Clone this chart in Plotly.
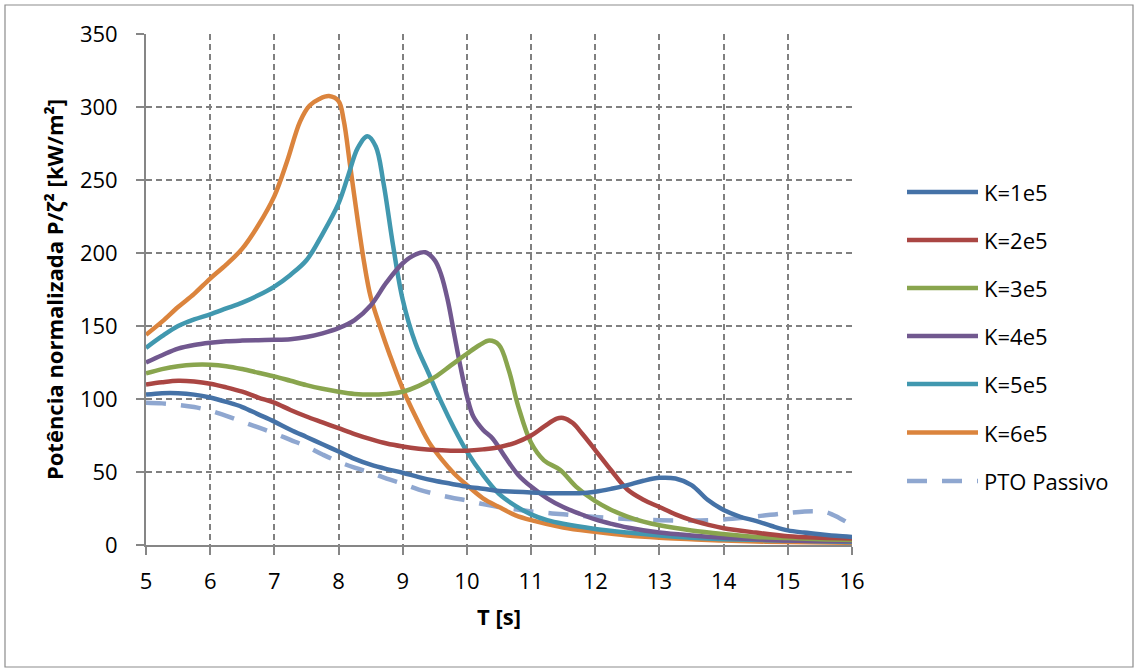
import plotly.graph_objects as go

# ---------------- data ----------------
t_k1 = [5, 5.25, 5.5, 5.75, 6, 6.25, 6.5, 6.75, 7, 7.25, 7.5, 7.75, 8, 8.25, 8.5, 8.75, 9, 9.25, 9.5, 9.75,
        10, 10.25, 10.5, 10.75, 11, 11.25, 11.5, 11.75, 12, 12.25, 12.5, 12.75, 13, 13.25, 13.5, 13.75,
        14, 14.25, 14.5, 14.75, 15, 15.25, 15.5, 15.75, 16]
p_k1 = [103, 104, 104, 103, 101, 98, 94.5, 89.5, 84.5, 79, 74, 69, 64, 59, 55, 52, 49.5, 46.5, 44, 42,
        40, 38.5, 37, 36.5, 36, 35.5, 35.5, 35.5, 36.5, 38.5, 41, 44, 46, 45.5, 41, 31,
        24, 19.5, 16.5, 13, 10, 8.5, 7.3, 6.3, 5.5]

t_k2 = [5, 5.25, 5.5, 5.75, 6, 6.25, 6.5, 6.75, 7, 7.25, 7.5, 7.75, 8, 8.25, 8.5, 8.75, 9, 9.25, 9.5, 9.75,
        10, 10.25, 10.5, 10.75, 11, 11.2, 11.4, 11.5, 11.65, 11.8, 12, 12.25, 12.5, 12.75, 13, 13.25,
        13.5, 13.75, 14, 14.5, 15, 15.5, 16]
p_k2 = [110, 111.5, 112.5, 112, 110.5, 108, 105, 101, 97.5, 92.5, 88, 84, 80, 76, 72.5, 69.5, 67.5, 66, 65, 64.6,
        64.6, 65.5, 67, 70, 75, 81, 86.5, 87, 83.5, 76, 65, 51, 38, 31, 26, 21,
        17, 14, 11.5, 8.5, 6, 5, 4.5]

t_k3 = [5, 5.25, 5.5, 5.75, 6, 6.25, 6.5, 6.75, 7, 7.25, 7.5, 7.75, 8, 8.25, 8.5, 8.75, 9, 9.25, 9.5, 9.75,
        10, 10.2, 10.35, 10.5, 10.65, 10.8, 11, 11.2, 11.45, 11.7, 12, 12.25, 12.5, 12.75, 13, 13.5,
        14, 14.5, 15, 15.5, 16]
p_k3 = [117.5, 120.5, 122.5, 123.5, 123.5, 122.5, 120.5, 118, 115.5, 112.5, 109.5, 107, 105, 103.5, 103, 103.5, 105, 109, 115, 123,
        131, 137, 140, 137, 120, 95, 70, 58, 51.5, 40, 30, 24, 19.5, 16, 13.5, 10,
        7.5, 5.5, 4.8, 4, 3.5]

t_k4 = [5, 5.25, 5.5, 5.75, 6, 6.25, 6.5, 6.75, 7, 7.25, 7.5, 7.75, 8, 8.25, 8.5, 8.75, 9, 9.2, 9.35, 9.5,
        9.6, 9.7, 9.8, 9.9, 10, 10.1, 10.25, 10.4, 10.6, 10.8, 11, 11.25, 11.5, 11.75, 12, 12.25, 12.5,
        13, 13.5, 14, 14.5, 15, 16]
p_k4 = [125, 130, 134.5, 137, 138.5, 139.5, 140, 140.3, 140.5, 141, 142.5, 145, 148.5, 154, 164, 180, 193, 199, 200.5, 195,
        185, 168, 145, 122, 102, 88, 79, 73, 60, 48, 40, 32, 26, 21.5, 17.5, 14.5, 12,
        8.5, 6.5, 5, 4, 3, 2.5]

t_k5 = [5, 5.25, 5.5, 5.75, 6, 6.25, 6.5, 6.75, 7, 7.25, 7.5, 7.75, 8, 8.15, 8.3, 8.45, 8.58, 8.7, 8.85, 9,
        9.2, 9.4, 9.6, 9.8, 10, 10.25, 10.5, 10.75, 11, 11.25, 11.5, 12, 12.5, 13, 13.5, 14, 15, 16]
p_k5 = [135, 143, 150, 154.5, 158, 162, 166, 171, 177, 185, 195, 213, 234, 253, 272, 280, 273, 248, 205, 168,
        138, 118, 98, 80, 64, 48, 35, 27, 21, 17, 14.5, 11, 8.5, 6.5, 5, 4, 3, 2]

t_k6 = [5, 5.25, 5.5, 5.75, 6, 6.25, 6.5, 6.75, 7, 7.2, 7.4, 7.55, 7.7, 7.85, 8, 8.08, 8.18, 8.3, 8.4, 8.5,
        8.65, 8.8, 9, 9.2, 9.4, 9.6, 9.8, 10, 10.25, 10.5, 10.75, 11, 11.5, 12, 12.5, 13, 13.5, 14, 15, 16]
p_k6 = [144, 153, 163, 172, 182.5, 192, 203, 219, 239, 263, 290, 301, 305.5, 307.5, 304, 291, 260, 222, 193, 170,
        149, 130, 107, 88, 71, 59, 49, 41, 32, 26, 20.5, 17, 12, 9, 6.5, 5, 4, 3, 2, 1.5]

t_pas = [5, 5.25, 5.5, 5.75, 6, 6.25, 6.5, 6.75, 7, 7.25, 7.5, 7.75, 8, 8.25, 8.5, 8.75, 9, 9.25, 9.5, 9.75,
         10, 10.25, 10.5, 10.75, 11, 11.5, 12, 12.5, 13, 13.5, 14, 14.5, 15, 15.4, 15.6, 15.8, 16]
p_pas = [97.5, 97, 96, 94.5, 92, 88.5, 84.5, 80.5, 76.5, 72, 67.5, 62, 57, 53, 49.5, 45.5, 42, 38, 35, 32.5,
         30.5, 28, 26, 24.5, 23, 21, 19.2, 17.8, 17, 16.8, 17.5, 19.5, 22, 23.2, 22.5, 18.5, 13.5]

series_names = ["K=1e5", "K=2e5", "K=3e5", "K=4e5", "K=5e5", "K=6e5", "PTO Passivo"]
series_t = [t_k1, t_k2, t_k3, t_k4, t_k5, t_k6, t_pas]
series_p = [p_k1, p_k2, p_k3, p_k4, p_k5, p_k6, p_pas]
series_colors = ["#4572A7", "#AA4643", "#89A54E", "#71588F", "#4198AF", "#DB843D", "#8FA7D0"]
series_dash = ["solid"] * 6 + ["20px,15px"]

x_ticks = list(range(5, 17))
y_ticks = list(range(0, 351, 50))
x_title = "T [s]"
y_title = "Potência normalizada P/ζ² [kW/m²]"

# ---------------- layout geometry ----------------
W, H = 1134, 669
L, R, T, B = 146, 852, 34, 545
pw, ph = R - L, B - T

def px2x(px):
    return (px - L) / pw

def py2y(py):
    return (B - py) / ph

FONT = "Open Sans"
fig = go.Figure()

order = [6, 5, 4, 3, 2, 1, 0]
for i in order:
    fig.add_trace(go.Scatter(
        x=series_t[i], y=series_p[i], name=series_names[i], mode="lines",
        line=dict(color=series_colors[i], width=4.5, dash=series_dash[i], shape="spline", smoothing=1.0),
        showlegend=False,
    ))

# custom legend (long line symbols like the reference)
leg_y = [192, 240, 288, 336, 384, 432.5, 481]
for i, name in enumerate(series_names):
    yy = py2y(leg_y[i])
    fig.add_shape(type="line", xref="paper", yref="paper",
                  x0=px2x(907), x1=px2x(978), y0=yy, y1=yy,
                  line=dict(color=series_colors[i], width=4.5, dash=series_dash[i]))
    fig.add_annotation(xref="paper", yref="paper", x=px2x(982), y=yy, text=name,
                       showarrow=False, xanchor="left", yanchor="middle",
                       font=dict(family=FONT, size=22, color="#000000"))

# outer chart border
fig.add_shape(type="rect", xref="paper", yref="paper",
              x0=px2x(5), x1=px2x(1133), y0=py2y(667), y1=py2y(5),
              line=dict(color="#8c8c8c", width=1.2), layer="below")

grid_color = "#808080"
fig.update_xaxes(range=[5, 16], tickvals=x_ticks, ticktext=[str(v) for v in x_ticks],
                 showgrid=True, gridcolor=grid_color, gridwidth=1.6, griddash="6px,4px",
                 showline=True, linecolor="#868686", linewidth=1.8,
                 ticks="outside", ticklen=8, tickcolor="#868686", tickwidth=1.8,
                 ticklabelstandoff=8, zeroline=False,
                 tickfont=dict(family=FONT, size=22, color="#000000"),
                 title=dict(text="<b>" + x_title + "</b>", standoff=15,
                            font=dict(family=FONT, size=22, color="#000000")))
fig.update_yaxes(range=[0, 350], tickvals=y_ticks, ticktext=[str(v) for v in y_ticks],
                 showgrid=True, gridcolor=grid_color, gridwidth=1.6, griddash="6px,4px",
                 showline=True, linecolor="#868686", linewidth=1.8,
                 ticks="outside", ticklen=8, tickcolor="#868686", tickwidth=1.8,
                 ticklabelstandoff=14, zeroline=False,
                 tickfont=dict(family=FONT, size=22, color="#000000"),
                 title=dict(text="<b>" + y_title + "</b>", standoff=10,
                            font=dict(family=FONT, size=22, color="#000000")))

fig.update_layout(width=W, height=H, autosize=False,
                  margin=dict(l=L, r=W - R, t=T, b=H - B, pad=0),
                  paper_bgcolor="white", plot_bgcolor="white",
                  showlegend=False)

fig.write_html("out.html", include_plotlyjs=True, full_html=True,
               config={"displayModeBar": False})
